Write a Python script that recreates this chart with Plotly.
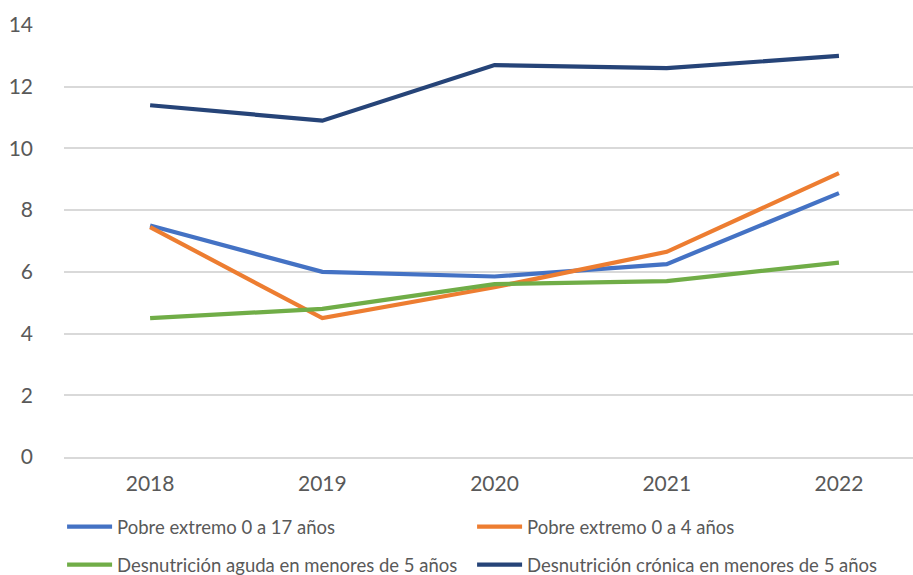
import plotly.graph_objects as go

years = ["2018", "2019", "2020", "2021", "2022"]

pobre_0_17 = [7.5, 6.0, 5.85, 6.25, 8.55]
pobre_0_4 = [7.45, 4.5, 5.5, 6.65, 9.2]
desn_aguda = [4.5, 4.8, 5.6, 5.7, 6.3]
desn_cronica = [11.4, 10.9, 12.7, 12.6, 13.0]

series = [
    ("Pobre extremo 0 a 17 años", pobre_0_17, "#4472C4", "legend"),
    ("Pobre extremo 0 a 4 años", pobre_0_4, "#ED7D31", "legend"),
    ("Desnutrición aguda en menores de 5 años", desn_aguda, "#70AD47", "legend2"),
    ("Desnutrición crónica en menores de 5 años", desn_cronica, "#264478", "legend2"),
]

font_family = "Lato, 'Open Sans', sans-serif"
text_color = "#595959"

fig = go.Figure()
for name, vals, color, leg in series:
    fig.add_trace(go.Scatter(
        x=years, y=vals, name=name, mode="lines",
        line=dict(color=color, width=4.2),
        legend=leg,
    ))

legend_common = dict(
    orientation="h",
    xref="container", yref="container",
    xanchor="left", yanchor="middle",
    x=0.068,
    font=dict(family=font_family, size=18.5, color=text_color),
    itemwidth=45,
    entrywidth=350, entrywidthmode="pixels",
    bgcolor="rgba(0,0,0,0)",
    borderwidth=0,
)

fig.update_layout(
    width=913, height=575,
    margin=dict(l=64, r=0, t=25, b=118),
    paper_bgcolor="white", plot_bgcolor="white",
    font=dict(family=font_family, color=text_color),
    showlegend=True,
    legend=dict(legend_common, y=1 - 527 / 575),
    legend2=dict(legend_common, y=1 - 565 / 575),
    xaxis=dict(
        type="category",
        range=[-0.5, 4.43],
        showgrid=False,
        showline=True, linecolor="#D9D9D9", linewidth=1.5,
        ticks="", tickfont=dict(size=21, color=text_color),
        ticklabelstandoff=7,
        fixedrange=True,
    ),
    yaxis=dict(
        range=[0, 14], dtick=2,
        showgrid=True, gridcolor="#D9D9D9", gridwidth=1.5,
        zeroline=False,
        ticks="", tickfont=dict(size=21, color=text_color),
        ticklabelstandoff=30,
        fixedrange=True,
    ),
)

fig.write_html("out.html")
